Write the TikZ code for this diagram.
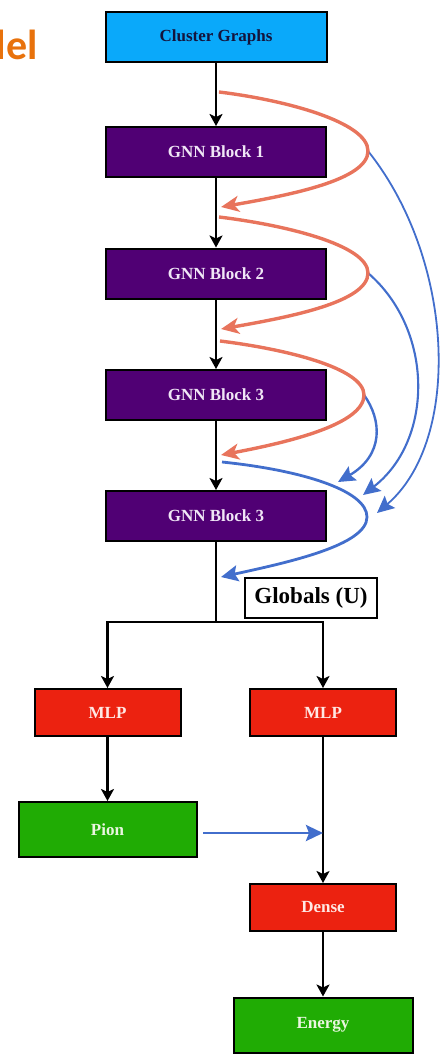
\documentclass[tikz,border=0pt]{standalone}
\usepackage{fontspec}
\setmainfont{Liberation Serif}
\newfontfamily\titlefont{Carlito}
\usetikzlibrary{arrows.meta}
\definecolor{cgblue}{RGB}{10,169,250}
\definecolor{cgtext}{RGB}{20,20,60}
\definecolor{gnnpurple}{RGB}{80,0,116}
\definecolor{gnntext}{RGB}{240,230,246}
\definecolor{mlpred}{RGB}{236,34,16}
\definecolor{redtext}{RGB}{255,232,228}
\definecolor{outgreen}{RGB}{32,172,4}
\definecolor{greentext}{RGB}{234,246,224}
\definecolor{skiporange}{RGB}{232,116,92}
\definecolor{skipblue}{RGB}{66,110,204}
\definecolor{titleorange}{RGB}{232,114,12}
\begin{document}
\begin{tikzpicture}[x=1pt,y=-1pt,
  box/.style={draw=black, line width=2pt, inner sep=0pt,
    font=\bfseries\fontsize{17}{20}\selectfont},
  cgbox/.style={box, fill=cgblue, text=cgtext, minimum width=221pt, minimum height=50pt},
  gnnbox/.style={box, fill=gnnpurple, text=gnntext, minimum width=220pt, minimum height=50pt},
  redbox/.style={box, fill=mlpred, text=redtext, minimum width=146pt, minimum height=47pt},
  greenbox/.style={box, fill=outgreen, text=greentext, minimum height=55pt},
  globbox/.style={draw=black, line width=2pt, fill=white, inner sep=0pt,
    minimum width=132pt, minimum height=40pt, font=\bfseries\fontsize{23}{26}\selectfont},
  flow/.style={draw=black, line width=2.3pt, -{Stealth[length=12pt,width=13pt,inset=3pt]}},
  plainline/.style={draw=black, line width=2.3pt},
  skipo/.style={draw=skiporange, line width=3.4pt, -{Stealth[length=18pt,width=16pt,inset=5pt]}},
  skipb/.style={draw=skipblue, line width=2.2pt, -{Stealth[length=17pt,width=16pt,inset=3pt]}},
]
\useasboundingbox (0,0) rectangle (444,1054);

% title fragment
\node[anchor=base east, inner sep=0pt, text=titleorange,
  font=\titlefont\bfseries\fontsize{42}{48}\selectfont] (title) at (38,60) {del};

% nodes
\node[cgbox] (cg) at (216,37) {Cluster Graphs};
\node[gnnbox] (g1) at (216,152) {GNN Block 1};
\node[gnnbox] (g2) at (216,273.5) {GNN Block 2};
\node[gnnbox] (g3) at (216,395) {GNN Block 3};
\node[gnnbox] (g4) at (216,516) {GNN Block 3};
\node[globbox] (glob) at (311,598) {Globals (U)};
\node[redbox] (mlpl) at (107.5,712.5) {MLP};
\node[redbox] (mlpr) at (323,712.5) {MLP};
\node[greenbox, minimum width=178pt] (pion) at (107.5,829.5) {Pion};
\node[redbox] (dense) at (323,907.5) {Dense};
\node[greenbox, minimum width=179pt] (energy) at (323,1025) {Energy};

% main flow
\draw[flow] (cg.south) -- (g1.north);
\draw[flow] (g1.south) -- (g2.north);
\draw[flow] (g2.south) -- (g3.north);
\draw[flow] (g3.south) -- (g4.north);
\coordinate (split) at (216,622);
\draw[plainline] (g4.south) -- (split);
\draw[flow] (split) -| (mlpl.north);
\draw[flow] (split) -| (mlpr.north);
\draw[flow] (mlpl.south) -- (pion.north);
\draw[flow] (mlpr.south) -- (dense.north);
\draw[flow] (dense.south) -- (energy.north);

% pion to energy branch
\coordinate (pj) at (323,833);
\coordinate (ps) at (203,833);
\draw[skipb, line width=2.8pt] (ps) -- (pj);

% skip-connection coordinates
\coordinate (o1s) at (219,92);   \coordinate (o1a) at (368,151);  \coordinate (o1e) at (221,207);
\coordinate (o2s) at (219,217);  \coordinate (o2a) at (368,273);  \coordinate (o2e) at (221,329);
\coordinate (o3s) at (220,341);  \coordinate (o3a) at (364,395);  \coordinate (o3e) at (221,455);
\coordinate (b4s) at (222,462);  \coordinate (b4a) at (367,517);  \coordinate (b4e) at (221,577);
\coordinate (b1e) at (377,513);
\coordinate (b2e) at (363,495);
\coordinate (b3e) at (338,482);

% blue long skips
\draw[skipb, line width=1.8pt] (o1a) .. controls (455,260) and (462,440) .. (b1e);
\draw[skipb, line width=2.1pt] (o2a) .. controls (434,330) and (434,440) .. (b2e);
\draw[skipb, line width=2.4pt] (o3a) .. controls (382,420) and (384,455) .. (b3e);
\draw[skipb, line width=2.8pt] (b4s) .. controls (300,470) and (367,490) .. (b4a)
   .. controls (367,545) and (290,562) .. (b4e);

% orange skips
\draw[skipo] (o1s) .. controls (285,100) and (368,122) .. (o1a)
   .. controls (368,180) and (290,195) .. (o1e);
\draw[skipo] (o2s) .. controls (285,225) and (368,245) .. (o2a)
   .. controls (368,302) and (290,317) .. (o2e);
\draw[skipo] (o3s) .. controls (285,349) and (364,368) .. (o3a)
   .. controls (364,424) and (290,442) .. (o3e);
\end{tikzpicture}
\end{document}
